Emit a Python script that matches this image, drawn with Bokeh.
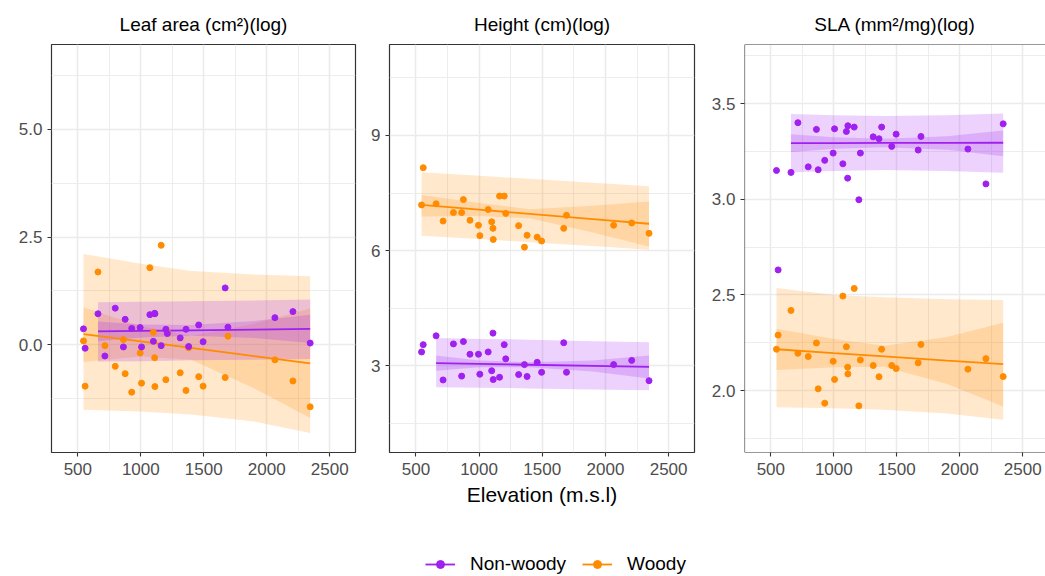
from bokeh.plotting import figure
from bokeh.layouts import column, row
from bokeh.models import Range1d, FixedTicker, Span, Legend, LegendItem, NumeralTickFormatter
from bokeh.embed import file_html
from bokeh.resources import INLINE

# ---------------- data ----------------
ELEVATION = [545, 558, 660, 715, 797, 862, 876, 928, 995, 1006, 1072, 1100, 1110, 1112,
             1162, 1199, 1211, 1313, 1359, 1380, 1460, 1495, 1670, 1692, 2065, 2208, 2345]

LEAF_NONWOODY = [0.37, -0.08, 0.72, -0.26, 0.85, -0.05, 0.59, 0.38, 0.40, -0.05, 0.70, 0.08, 0.73, 0.72,
                 -0.02, 0.36, 0.26, 0.16, 0.36, -0.04, 0.46, 0.07, 1.32, 0.41, 0.63, 0.77, 0.04]
LEAF_WOODY = [0.09, -0.96, 1.69, -0.02, -0.50, 0.12, -0.67, -1.10, -0.19, -0.89, 1.79, 0.29, -0.30, -0.97,
              2.31, -0.81, 0.30, -0.65, -1.06, -0.07, -0.74, -0.96, -0.76, 0.20, -0.35, -0.84, -1.44]

HEIGHT_NONWOODY = [3.36, 3.55, 3.78, 2.63, 3.57, 2.73, 3.63, 3.30, 3.30, 2.78, 3.36, 2.87, 3.85, 2.64,
                   2.70, 3.55, 3.18, 2.77, 3.03, 2.72, 3.09, 2.83, 3.60, 2.83, 3.03, 3.14, 2.61]
HEIGHT_WOODY = [7.19, 8.16, 7.22, 6.77, 6.99, 6.99, 7.33, 6.79, 6.66, 6.39, 7.07, 6.75, 6.58, 6.29,
                7.42, 7.42, 6.97, 6.65, 6.09, 6.40, 6.35, 6.25, 6.58, 6.92, 6.66, 6.72, 6.45]

SLA_NONWOODY = [3.151, 2.631, 3.141, 3.401, 3.170, 3.366, 3.155, 3.204, 3.242, 3.369, 3.186, 3.355, 3.111, 3.385,
                3.378, 2.998, 3.242, 3.327, 3.317, 3.378, 3.277, 3.341, 3.258, 3.329, 3.263, 3.081, 3.395]
SLA_WOODY = [2.216, 2.290, 2.419, 2.195, 2.178, 2.249, 2.009, 1.934, 2.153, 2.058, 2.494, 2.229, 2.122, 2.087,
             2.534, 1.920, 2.160, 2.131, 2.072, 2.216, 2.131, 2.115, 2.145, 2.241, 2.112, 2.167, 2.073]

# fitted trend lines and bands (inner = confidence, outer = prediction), read at a few elevations
LEAF_NW_X = [660, 1000, 1400, 1900, 2345]
LEAF_NW_FIT = [0.31, 0.322, 0.336, 0.354, 0.37]
LEAF_NW_IN_LO = [0.08, 0.17, 0.21, 0.16, 0.04]
LEAF_NW_IN_HI = [0.54, 0.47, 0.46, 0.55, 0.70]
LEAF_NW_OUT_LO = [-0.39, -0.38, -0.36, -0.35, -0.33]
LEAF_NW_OUT_HI = [0.99, 1.00, 1.01, 1.03, 1.05]

LEAF_W_X = [545, 1000, 1400, 1900, 2345]
LEAF_W_FIT = [0.25, 0.077, -0.073, -0.262, -0.43]
LEAF_W_IN_LO = [-0.40, -0.27, -0.35, -1.01, -1.70]
LEAF_W_IN_HI = [0.87, 0.43, 0.21, 0.49, 0.84]
LEAF_W_OUT_LO = [-1.51, -1.55, -1.62, -1.78, -2.05]
LEAF_W_OUT_HI = [2.11, 1.88, 1.71, 1.63, 1.59]

HEIGHT_NW_X = [660, 1000, 1400, 1900, 2345]
HEIGHT_NW_FIT = [3.07, 3.05, 3.026, 2.996, 2.97]
HEIGHT_NW_IN_LO = [2.87, 2.96, 2.96, 2.85, 2.67]
HEIGHT_NW_IN_HI = [3.27, 3.14, 3.09, 3.14, 3.27]
HEIGHT_NW_OUT_LO = [2.44, 2.43, 2.41, 2.38, 2.36]
HEIGHT_NW_OUT_HI = [3.72, 3.70, 3.68, 3.64, 3.61]

HEIGHT_W_X = [545, 1000, 1400, 1900, 2345]
HEIGHT_W_FIT = [7.19, 7.066, 6.957, 6.821, 6.70]
HEIGHT_W_IN_LO = [6.89, 6.90, 6.84, 6.47, 6.11]
HEIGHT_W_IN_HI = [7.45, 7.24, 7.08, 7.17, 7.28]
HEIGHT_W_OUT_LO = [6.39, 6.30, 6.22, 6.12, 6.02]
HEIGHT_W_OUT_HI = [8.04, 7.95, 7.87, 7.77, 7.68]

SLA_NW_X = [660, 1000, 1400, 1900, 2345]
SLA_NW_FIT = [3.294, 3.2945, 3.295, 3.2955, 3.296]
SLA_NW_IN_LO = [3.247, 3.265, 3.273, 3.260, 3.225]
SLA_NW_IN_HI = [3.340, 3.325, 3.317, 3.330, 3.360]
SLA_NW_OUT_LO = [3.142, 3.148, 3.153, 3.148, 3.139]
SLA_NW_OUT_HI = [3.446, 3.440, 3.436, 3.440, 3.449]

SLA_W_X = [545, 1000, 1400, 1900, 2345]
SLA_W_FIT = [2.216, 2.196, 2.179, 2.157, 2.138]
SLA_W_IN_LO = [2.108, 2.122, 2.124, 2.034, 1.916]
SLA_W_IN_HI = [2.323, 2.270, 2.234, 2.280, 2.354]
SLA_W_OUT_LO = [1.913, 1.908, 1.900, 1.880, 1.847]
SLA_W_OUT_HI = [2.537, 2.500, 2.488, 2.478, 2.474]

X_TICKS = [500, 1000, 1500, 2000, 2500]
X_MINOR = [750, 1250, 1750, 2250]
LEAF_TICKS = [0.0, 2.5, 5.0]
LEAF_MINOR = [-1.25, 1.25, 3.75, 6.25]
HEIGHT_TICKS = [3, 6, 9]
HEIGHT_MINOR = [1.5, 4.5, 7.5, 10.5]
SLA_TICKS = [2.0, 2.5, 3.0, 3.5]
SLA_MINOR = [1.75, 2.25, 2.75, 3.25, 3.75]

GROUPS = ["Non-woody", "Woody"]
PURPLE = "#A020F0"
ORANGE = "#FF8C00"
FONT = "Liberation Sans"


def make_panel(title, width, border_left, border_right, x_end, y_range, y_ticks, y_minor,
               y_format, series, x_label=None, outline=True):
    p = figure(width=width, height=522, output_backend="svg", toolbar_location=None,
               x_range=Range1d(291, x_end), y_range=Range1d(*y_range),
               min_border_left=border_left, min_border_right=border_right,
               min_border_top=44, min_border_bottom=70)
    p.title.text = title
    p.title.align = "center"
    p.title.text_font = FONT
    p.title.text_font_size = "19px"
    p.title.text_font_style = "normal"
    p.title.text_color = "#000000"
    p.title.standoff = 19
    p.background_fill_color = "white"
    p.border_fill_color = "white"
    if outline:
        p.outline_line_color = "#333333"
        p.outline_line_width = 1.2
        p.outline_line_alpha = 1
    else:
        p.outline_line_color = None
        for loc, dim in [(y_range[1], "width"), (y_range[0], "width"), (291, "height")]:
            p.add_layout(Span(location=loc, dimension=dim, line_color="#333333", line_width=1.2))

    p.xaxis.ticker = FixedTicker(ticks=X_TICKS, minor_ticks=X_MINOR)
    p.yaxis.ticker = FixedTicker(ticks=y_ticks, minor_ticks=y_minor)
    p.yaxis.formatter = NumeralTickFormatter(format=y_format)
    for ax in (p.xaxis, p.yaxis):
        ax.axis_line_color = None
        ax.major_tick_line_color = "#333333"
        ax.major_tick_line_width = 1.1
        ax.major_tick_out = 4
        ax.major_tick_in = 0
        ax.minor_tick_line_color = None
        ax.major_label_text_font = FONT
        ax.major_label_text_font_size = "17px"
        ax.major_label_text_color = "#4D4D4D"
        ax.major_label_standoff = 5
    p.xaxis.major_label_standoff = 6
    if x_label:
        p.xaxis.axis_label = x_label
        p.xaxis.axis_label_text_font = FONT
        p.xaxis.axis_label_text_font_size = "21px"
        p.xaxis.axis_label_text_font_style = "normal"
        p.xaxis.axis_label_text_color = "#000000"
        p.xaxis.axis_label_standoff = 5
    for g in (p.xgrid, p.ygrid):
        g.grid_line_color = "#EBEBEB"
        g.grid_line_width = 1.6
        g.minor_grid_line_color = "#EBEBEB"
        g.minor_grid_line_width = 0.9

    # bands
    for s in series:
        color = s["color"]
        p.varea(x=s["bx"], y1=s["out_lo"], y2=s["out_hi"], fill_color=color, fill_alpha=0.2)
        p.varea(x=s["bx"], y1=s["in_lo"], y2=s["in_hi"], fill_color=color, fill_alpha=0.2)
    for s in series:
        p.line(x=s["bx"], y=s["fit"], line_color=s["color"], line_width=1.8)
    for s in series:
        p.scatter(x=ELEVATION, y=s["y"], size=6, fill_color=s["color"], line_color=s["color"])
    return p


def series(color, y, bx, fit, in_lo, in_hi, out_lo, out_hi):
    return dict(color=color, y=y, bx=bx, fit=fit, in_lo=in_lo, in_hi=in_hi, out_lo=out_lo, out_hi=out_hi)


leaf_series = [
    series(ORANGE, LEAF_WOODY, LEAF_W_X, LEAF_W_FIT, LEAF_W_IN_LO, LEAF_W_IN_HI, LEAF_W_OUT_LO, LEAF_W_OUT_HI),
    series(PURPLE, LEAF_NONWOODY, LEAF_NW_X, LEAF_NW_FIT, LEAF_NW_IN_LO, LEAF_NW_IN_HI, LEAF_NW_OUT_LO, LEAF_NW_OUT_HI),
]
height_series = [
    series(ORANGE, HEIGHT_WOODY, HEIGHT_W_X, HEIGHT_W_FIT, HEIGHT_W_IN_LO, HEIGHT_W_IN_HI, HEIGHT_W_OUT_LO, HEIGHT_W_OUT_HI),
    series(PURPLE, HEIGHT_NONWOODY, HEIGHT_NW_X, HEIGHT_NW_FIT, HEIGHT_NW_IN_LO, HEIGHT_NW_IN_HI, HEIGHT_NW_OUT_LO, HEIGHT_NW_OUT_HI),
]
sla_series = [
    series(ORANGE, SLA_WOODY, SLA_W_X, SLA_W_FIT, SLA_W_IN_LO, SLA_W_IN_HI, SLA_W_OUT_LO, SLA_W_OUT_HI),
    series(PURPLE, SLA_NONWOODY, SLA_NW_X, SLA_NW_FIT, SLA_NW_IN_LO, SLA_NW_IN_HI, SLA_NW_OUT_LO, SLA_NW_OUT_HI),
]

p1 = make_panel("Leaf area (cm²)(log)", 362, 51, 7, 2705, (-2.5, 6.97), LEAF_TICKS, LEAF_MINOR, "0.0", leaf_series)
p2 = make_panel("Height (cm)(log)", 339, 27, 7, 2705, (0.74, 11.37), HEIGHT_TICKS, HEIGHT_MINOR, "0", height_series,
                x_label="Elevation (m.s.l)")
p3 = make_panel("SLA (mm²/mg)(log)", 344, 43, 0, 2681, (1.676, 3.81), SLA_TICKS, SLA_MINOR, "0.0", sla_series,
                outline=False)

# legend strip (legend keys use placeholder renderers whose point sits outside the visible range)
leg = figure(width=1045, height=54, output_backend="svg", toolbar_location=None,
             x_range=Range1d(0, 1), y_range=Range1d(0, 1), min_border=0,
             x_axis_location=None, y_axis_location=None)
leg.grid.visible = False
leg.outline_line_color = None
items = []
for name, color in zip(GROUPS, [PURPLE, ORANGE]):
    rl = leg.line(x=[-5, -4], y=[-5, -5], line_color=color, line_width=1.8)
    rp = leg.scatter(x=[-5], y=[-5], size=4.5, fill_color=color, line_color=color)
    items.append(LegendItem(label=name, renderers=[rl, rp]))
legend = Legend(items=items, orientation="horizontal", location=(425, 1),
                glyph_width=30, glyph_height=20, label_standoff=15, spacing=16,
                padding=0, margin=0, border_line_color=None, background_fill_alpha=0,
                label_text_font=FONT, label_text_font_size="19px", label_text_color="#000000")
leg.add_layout(legend)

layout = column(row(p1, p2, p3), leg)
open("out.html", "w").write(file_html(layout, INLINE))
